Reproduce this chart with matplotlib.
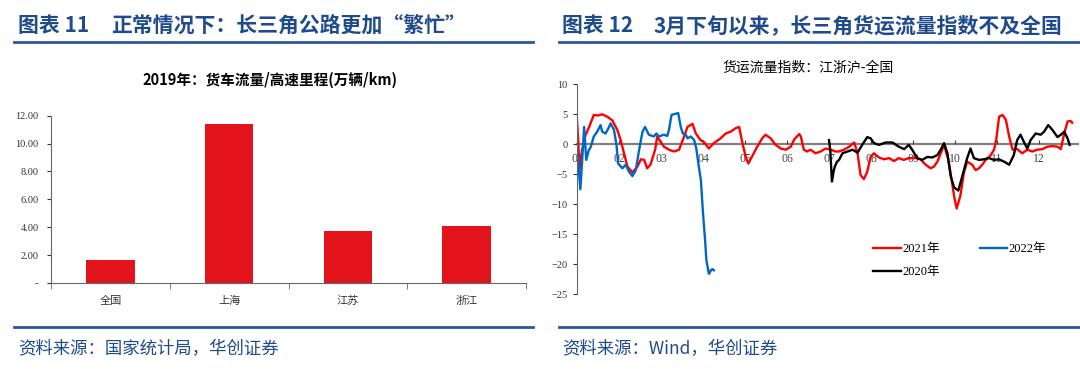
import matplotlib
matplotlib.use('Agg')
import matplotlib.pyplot as plt
from matplotlib.lines import Line2D
import numpy as np

plt.rcParams['font.family'] = ['Liberation Serif', 'Noto Sans CJK SC']

# left chart: 2019 truck flow / expressway mileage
regions = ['全国', '上海', '江苏', '浙江']
flow_per_km = [1.65, 11.38, 3.74, 4.09]
bar_yticks = [0, 2, 4, 6, 8, 10, 12]
bar_ylabels = ['-', '2.00', '4.00', '6.00', '8.00', '10.00', '12.00']

# right chart: freight index, Jiangsu-Zhejiang-Shanghai minus national (x = months since Jan 1)
m_2021 = [0.00, 0.03, 0.06, 0.12, 0.20, 0.29, 0.40, 0.50, 0.60, 0.72, 0.84, 0.96, 1.04, 1.12,
          1.20, 1.32, 1.44, 1.52, 1.60, 1.67, 1.75, 1.86, 1.91, 1.99, 2.07, 2.19, 2.31, 2.43,
          2.55, 2.63, 2.75, 2.83, 2.94, 3.02, 3.14, 3.26, 3.42, 3.54, 3.66, 3.78, 3.86, 3.94,
          4.02, 4.08, 4.17, 4.29, 4.41, 4.49, 4.61, 4.73, 4.85, 4.97, 5.09, 5.17, 5.29, 5.33,
          5.40, 5.48, 5.56, 5.68, 5.80, 5.92, 6.04, 6.16, 6.24, 6.36, 6.48, 6.60, 6.68, 6.75,
          6.83, 6.91, 6.99, 7.07, 7.19, 7.31, 7.43, 7.55, 7.66, 7.78, 7.90, 8.06, 8.18, 8.30,
          8.42, 8.50, 8.58, 8.66, 8.74, 8.84, 8.92, 8.98, 9.04, 9.13, 9.21, 9.29, 9.41, 9.49,
          9.57, 9.65, 9.73, 9.85, 9.93, 9.98, 10.05, 10.13, 10.21, 10.29, 10.37, 10.48, 10.60,
          10.72, 10.84, 10.96, 11.08, 11.20, 11.32, 11.44, 11.52, 11.60, 11.68, 11.75, 11.79]
v_2021 = [4.0, 0.5, -4.3, -1.0, 1.5, 2.9, 4.9, 4.8, 5.0, 4.6, 4.0, 2.4, 0.7, -1.5,
          -3.7, -4.7, -3.7, -2.5, -2.6, -4.0, -3.4, -0.9, 1.3, 0.4, -0.4, -0.9, -1.2, -0.9,
          1.3, 2.9, 3.4, 1.8, 0.7, 0.4, -0.7, 0.2, 1.0, 1.8, 2.1, 2.7, 2.9, 0.2,
          -2.2, -3.2, -2.0, -0.4, 1.0, 1.6, 1.0, -0.1, -0.7, -0.9, -0.4, 0.8, 1.7, 1.3,
          -0.9, -1.2, -0.9, -1.5, -1.2, -0.7, -0.9, -1.2, -1.2, -0.9, -0.4, 0.3, -1.5, -5.1,
          -5.8, -4.6, -2.1, -1.5, -2.2, -2.5, -2.3, -2.8, -2.3, -2.6, -2.3, -2.3, -2.5, -3.4,
          -4.0, -3.7, -2.9, -1.5, -0.1, -2.6, -5.9, -8.7, -10.7, -8.5, -4.8, -2.9, -3.4, -4.3,
          -4.0, -3.4, -2.6, -1.8, -0.9, 0.7, 4.6, 4.9, 4.1, 1.3, -0.9, -0.8, -1.5,
          -0.9, -1.2, -0.9, -0.8, -0.4, -0.3, -0.4, -0.8, 1.8, 3.8, 3.9, 3.6]

m_2022 = [0.00, 0.04, 0.08, 0.12, 0.17, 0.22, 0.28, 0.33, 0.40, 0.48, 0.56, 0.60, 0.68, 0.75,
          0.80, 0.88, 0.94, 0.98, 1.08, 1.16, 1.24, 1.32, 1.40, 1.48, 1.56, 1.62, 1.71, 1.83,
          1.89, 1.95, 2.07, 2.15, 2.19, 2.25, 2.35, 2.41, 2.47, 2.52, 2.59, 2.63, 2.71, 2.79,
          2.84, 2.90, 2.95, 3.00, 3.05, 3.08, 3.14, 3.19, 3.22, 3.26]
v_2022 = [0.0, -4.0, -7.5, -3.0, 2.9, -2.6, -1.0, -0.4, 1.3, 2.1, 3.2, 2.1, 1.8, 2.7,
          3.5, 2.4, -0.1, -3.2, -4.0, -3.4, -4.6, -5.3, -4.3, -0.9, 2.1, 2.9, 1.6, 1.3,
          1.8, 1.3, 1.6, 1.4, 2.4, 4.9, 5.1, 5.2, 2.9, 1.8, 1.6, 1.0, 1.3, 0.7,
          -0.7, -3.7, -6.0, -11.5, -16.0, -19.3, -21.6, -21.0, -20.8, -21.0]

m_2020 = [6.00, 6.03, 6.07, 6.11, 6.14, 6.19, 6.24, 6.32, 6.44, 6.56, 6.68, 6.79, 6.91, 6.99,
          7.07, 7.19, 7.35, 7.51, 7.66, 7.79, 7.90, 7.98, 8.10, 8.22, 8.34, 8.46, 8.58, 8.66,
          8.74, 8.82, 8.90, 8.98, 9.08, 9.17, 9.29, 9.37, 9.45, 9.57, 9.69, 9.81, 9.93, 10.05,
          10.17, 10.29, 10.40, 10.48, 10.56, 10.64, 10.72, 10.80, 10.92, 11.04, 11.12, 11.22,
          11.32, 11.44, 11.52, 11.60, 11.68, 11.73]
v_2020 = [0.7, -1.0, -6.2, -4.5, -3.7, -2.9, -2.6, -1.5, -1.2, -0.9, -1.4, -0.1, 1.2, 1.0,
          0.2, -0.1, 0.3, 0.3, -0.4, -0.8, -0.1, -0.9, -2.3, -2.6, -2.1, -2.2, -1.8, -0.9,
          0.2, -1.5, -5.4, -7.2, -7.7, -5.4, -2.3, -0.7, -2.3, -2.6, -2.5, -2.3, -2.6, -2.5,
          -2.9, -3.4, -1.8, 0.7, 1.6, 0.4, -0.7, 0.7, 1.8, 1.6, 2.1, 3.2,
          2.4, 1.2, 1.6, 2.1, 1.0, -0.1]

month_labels = ['01', '02', '03', '04', '05', '06', '07', '08', '09', '10', '11', '12']

navy = '#1F4A8C'
cjk = ['Noto Sans CJK SC', 'DejaVu Sans']

fig = plt.figure(figsize=(10.8, 3.75), dpi=100)

# headers
fig.text(18 / 1080, 0.933, '图表 11', color=navy, fontsize=15, fontweight='bold', va='center', family=cjk)
fig.text(111 / 1080, 0.933, '正常情况下：长三角公路更加“繁忙”', color=navy, fontsize=15,
         fontweight='bold', va='center', family=cjk)
fig.text(562 / 1080, 0.933, '图表 12', color=navy, fontsize=15, fontweight='bold', va='center', family=cjk)
fig.text(654 / 1080, 0.933, '3月下旬以来，长三角货运流量指数不及全国', color=navy, fontsize=15,
         fontweight='bold', va='center', family=cjk)
for x0, x1 in [(14, 533), (559, 1080)]:
    fig.add_artist(Line2D([x0 / 1080, x1 / 1080], [0.888, 0.888], color='#2B579A', lw=2,
                          transform=fig.transFigure))
    fig.add_artist(Line2D([x0 / 1080, x1 / 1080], [0.128, 0.128], color='#2B579A', lw=2,
                          transform=fig.transFigure))

# footers
fig.text(18 / 1080, 0.069, '资料来源：国家统计局，华创证券', color=navy, fontsize=12.5, va='center', family=cjk)
fig.text(562 / 1080, 0.069, '资料来源：Wind，华创证券', color=navy, fontsize=12.5, va='center', family=cjk)

# ---- bar chart
ax1 = fig.add_axes([51 / 1080, 0.2453, 475 / 1080, 0.4464])
xpos = np.arange(len(regions))
ax1.bar(xpos, flow_per_km, width=0.41, color='#E3131B')
ax1.set_xlim(-0.5, len(regions) - 0.5)
ax1.set_ylim(0, 12)
ax1.set_yticks(bar_yticks)
ax1.set_yticklabels(bar_ylabels)
ax1.tick_params(axis='y', direction='out', length=3, labelsize=7.5, colors='#333333', pad=6)
ax1.set_xticks(xpos)
ax1.set_xticklabels(regions, family=cjk, fontsize=8)
ax1.tick_params(axis='x', which='major', length=0, pad=9, colors='#333333')
ax1.set_xticks(np.arange(-0.5, len(regions), 1.0), minor=True)
ax1.tick_params(axis='x', which='minor', direction='out', length=4, color='#666666')
for s in ['top', 'right']:
    ax1.spines[s].set_visible(False)
for s in ['left', 'bottom']:
    ax1.spines[s].set_color('#666666')
    ax1.spines[s].set_linewidth(0.8)
fig.text(270 / 1080, 1 - 80 / 375, '2019年：货车流量/高速里程(万辆/km)', ha='center', va='center',
         fontsize=10.5, fontweight='bold', family=cjk)

# ---- line chart
ax2 = fig.add_axes([577 / 1080, 0.2152, 501 / 1080, 0.56])
ax2.plot(m_2021, v_2021, color='#FF0000', lw=1.7, label='2021年')
ax2.plot(m_2022, v_2022, color='#0066C8', lw=1.7, label='2022年')
ax2.plot(m_2020, v_2020, color='#000000', lw=1.7, label='2020年')
ax2.set_xlim(0, 501 / 42)
ax2.set_ylim(-25, 10)
ax2.set_yticks(np.arange(-25, 11, 5))
ax2.tick_params(axis='y', direction='out', length=3, labelsize=7.5, colors='#333333', pad=4)
ax2.set_xticks(np.arange(12))
ax2.set_xticklabels(month_labels)
ax2.tick_params(axis='x', direction='in', length=3, labelsize=8.5, colors='#444444', pad=6)
ax2.spines['bottom'].set_position(('data', 0))
ax2.spines['bottom'].set_color('#808080')
ax2.spines['bottom'].set_linewidth(1.6)
ax2.spines['bottom'].set_zorder(1)
ax2.spines['left'].set_color('#666666')
ax2.spines['left'].set_linewidth(0.8)
for s in ['top', 'right']:
    ax2.spines[s].set_visible(False)
h, l = ax2.get_legend_handles_labels()
order = [0, 2, 1]
ax2.legend([h[i] for i in order], [l[i] for i in order], ncol=2, frameon=False,
           loc='upper left', bbox_to_anchor=(862 / 1080, 1 - 232 / 375), bbox_transform=fig.transFigure,
           fontsize=9, handlelength=2.2, columnspacing=3.2, handletextpad=0.1, labelspacing=0.9)
fig.text(808 / 1080, 1 - 68 / 375, '货运流量指数：江浙沪-全国', ha='center', va='center', fontsize=10, family=cjk)

fig.savefig('out.png', dpi=100)
